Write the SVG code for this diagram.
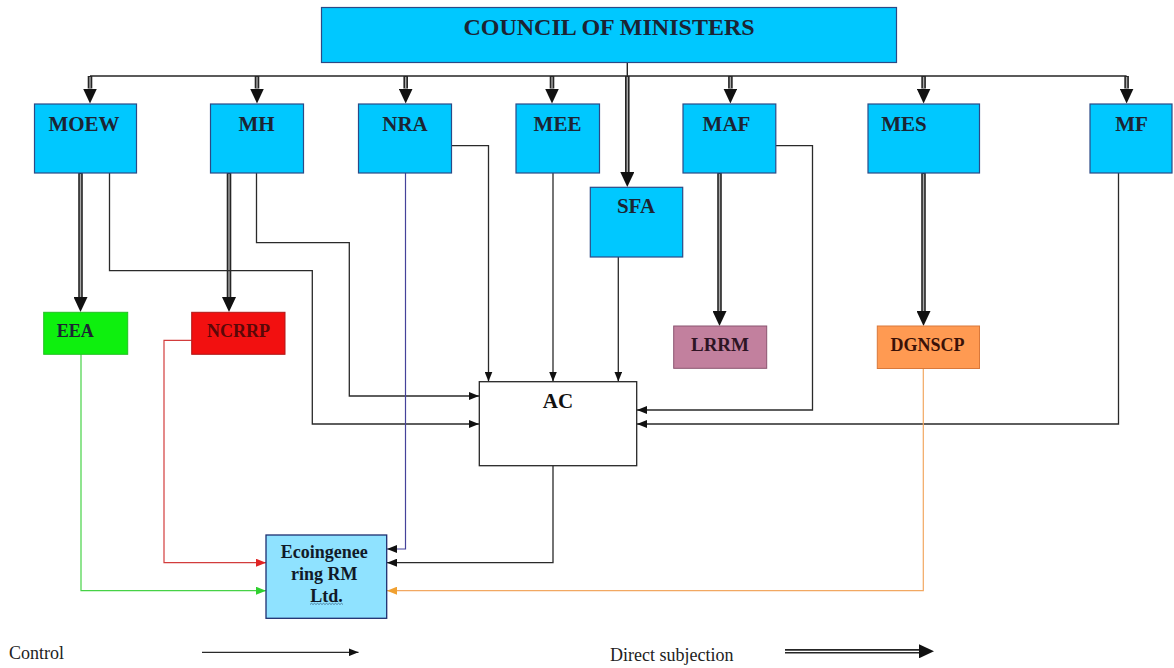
<svg xmlns="http://www.w3.org/2000/svg" width="1174" height="668" viewBox="0 0 1174 668">
  <style>
    .box { fill: #00c8ff; stroke: #2b4a86; stroke-width: 1.2; }
    .lbl { font-family: "Liberation Serif", "Times New Roman", serif; font-weight: bold; fill: #1c2433; text-anchor: middle; }
    .legend { font-family: "Liberation Serif", "Times New Roman", serif; font-size: 18px; fill: #222; }
    .ctl { fill: none; stroke: #2a2a2a; stroke-width: 1.3; marker-end: url(#arrCtl); }
    .ds-outer { fill: none; stroke: #262626; stroke-width: 4.6; marker-end: url(#arrDs); }
    .ds-inner { fill: none; stroke: #a8a8a8; stroke-width: 1.4; }
    .bus { fill: none; stroke: #262626; stroke-width: 1.4; }
  </style>
  <defs>
    <marker id="arrDs" markerUnits="userSpaceOnUse" viewBox="0 0 15 14" markerWidth="15" markerHeight="14" refX="0" refY="7" orient="auto">
      <path d="M0,0 L15,7 L0,14 z" fill="#111"/>
    </marker>
    <marker id="arrCtl" markerUnits="userSpaceOnUse" viewBox="0 0 10 8" markerWidth="10" markerHeight="8" refX="10" refY="4" orient="auto">
      <path d="M0,0 L10,4 L0,8 z" fill="#111"/>
    </marker>
    <marker id="arrRed" markerUnits="userSpaceOnUse" viewBox="0 0 10 8" markerWidth="10" markerHeight="8" refX="10" refY="4" orient="auto">
      <path d="M0,0 L10,4 L0,8 z" fill="#e02424"/>
    </marker>
    <marker id="arrGreen" markerUnits="userSpaceOnUse" viewBox="0 0 10 8" markerWidth="10" markerHeight="8" refX="10" refY="4" orient="auto">
      <path d="M0,0 L10,4 L0,8 z" fill="#2fd02f"/>
    </marker>
    <marker id="arrOrange" markerUnits="userSpaceOnUse" viewBox="0 0 10 8" markerWidth="10" markerHeight="8" refX="10" refY="4" orient="auto">
      <path d="M0,0 L10,4 L0,8 z" fill="#f0a030"/>
    </marker>
  </defs>

  <rect width="1174" height="668" fill="#ffffff"/>

  <!-- connectors -->
  <g id="connectors">
    <!-- council bus -->
    <path class="bus" d="M627.3,62 V76 M90,76 H1126.6"/>

    <!-- direct subjection: council to ministries -->
    <g id="ds-council">
      <path class="ds-outer" d="M90,76 V88.5"/><path class="ds-inner" d="M90,77 V88.5"/>
      <path class="ds-outer" d="M257,76 V88.5"/><path class="ds-inner" d="M257,77 V88.5"/>
      <path class="ds-outer" d="M405.7,76 V88.5"/><path class="ds-inner" d="M405.7,77 V88.5"/>
      <path class="ds-outer" d="M552,76 V88.5"/><path class="ds-inner" d="M552,77 V88.5"/>
      <path class="ds-outer" d="M730.4,76 V88.5"/><path class="ds-inner" d="M730.4,77 V88.5"/>
      <path class="ds-outer" d="M923.6,76 V88.5"/><path class="ds-inner" d="M923.6,77 V88.5"/>
      <path class="ds-outer" d="M1126.6,76 V88.5"/><path class="ds-inner" d="M1126.6,77 V88.5"/>
      <path class="ds-outer" d="M627.3,76 V172"/><path class="ds-inner" d="M627.3,77 V172"/>
    </g>

    <!-- direct subjection: ministries to agencies -->
    <g id="ds-agencies">
      <path class="ds-outer" d="M80.5,173 V297"/><path class="ds-inner" d="M80.5,174 V297"/>
      <path class="ds-outer" d="M229,173 V297"/><path class="ds-inner" d="M229,174 V297"/>
      <path class="ds-outer" d="M719.5,173 V311"/><path class="ds-inner" d="M719.5,174 V311"/>
      <path class="ds-outer" d="M923.5,173 V311"/><path class="ds-inner" d="M923.5,174 V311"/>
    </g>

    <!-- control links into AC -->
    <g id="ctl-ac">
      <path class="ctl" d="M109.5,173 V270.7 H312.3 V424 H479"/>
      <path class="ctl" d="M256.5,173 V242.7 H349.3 V396 H479"/>
      <path class="ctl" d="M451.6,145.7 H488.5 V381.5"/>
      <path class="ctl" d="M553,173 V381.5"/>
      <path class="ctl" d="M618.3,257 V381.5"/>
      <path class="ctl" d="M775.8,145.7 H812.5 V410 H637"/>
      <path class="ctl" d="M1118.5,173 V424 H637"/>
    </g>

    <!-- control links into Ecoingeneering RM Ltd. -->
    <g id="ctl-eco">
      <path d="M405.5,173 V549 H387" fill="none" stroke="#45439a" stroke-width="1.2" marker-end="url(#arrCtl)"/>
      <path class="ctl" d="M553,465.7 V562.7 H387"/>
      <path d="M81,354 V590.7 H266" fill="none" stroke="#46d246" stroke-width="1.2" marker-end="url(#arrGreen)"/>
      <path d="M191.7,340.3 H164 V562.7 H266" fill="none" stroke="#d23c3c" stroke-width="1.2" marker-end="url(#arrRed)"/>
      <path d="M923.3,368.5 V590.7 H387" fill="none" stroke="#f2a862" stroke-width="1.2" marker-end="url(#arrOrange)"/>
    </g>
  </g>

  <!-- nodes -->
  <g id="council">
    <rect class="box" x="321.5" y="7.5" width="575" height="55"/>
    <text class="lbl" x="609" y="34.5" font-size="24">COUNCIL OF MINISTERS</text>
  </g>

  <g id="moew">
    <rect class="box" x="34.5" y="104" width="102" height="69"/>
    <text class="lbl" x="84" y="130.7" font-size="21">MOEW</text>
  </g>
  <g id="mh">
    <rect class="box" x="210.5" y="104" width="93" height="69"/>
    <text class="lbl" x="256.5" y="130.7" font-size="21">MH</text>
  </g>
  <g id="nra">
    <rect class="box" x="358.5" y="104" width="93" height="69"/>
    <text class="lbl" x="405" y="130.7" font-size="21">NRA</text>
  </g>
  <g id="mee">
    <rect class="box" x="516" y="104" width="83.5" height="69"/>
    <text class="lbl" x="557.5" y="130.7" font-size="21">MEE</text>
  </g>
  <g id="maf">
    <rect class="box" x="683" y="104" width="92.8" height="69"/>
    <text class="lbl" x="726.5" y="130.7" font-size="21">MAF</text>
  </g>
  <g id="mes">
    <rect class="box" x="868" y="104" width="111.5" height="69"/>
    <text class="lbl" x="904" y="130.7" font-size="21">MES</text>
  </g>
  <g id="mf">
    <rect class="box" x="1090" y="104" width="82" height="69"/>
    <text class="lbl" x="1131.5" y="130.7" font-size="21">MF</text>
  </g>
  <g id="sfa">
    <rect class="box" x="590.3" y="187.3" width="92.4" height="69.7"/>
    <text class="lbl" x="636" y="213.3" font-size="21">SFA</text>
  </g>

  <g id="eea">
    <rect x="43.7" y="312.3" width="84" height="42" fill="#0ef00e" stroke="#22c022" stroke-width="1"/>
    <text class="lbl" x="75.3" y="336.7" font-size="18" fill="#1a3a1a">EEA</text>
  </g>
  <g id="ncrrp">
    <rect x="191.7" y="312.3" width="93.3" height="42" fill="#f21010" stroke="#b01818" stroke-width="1"/>
    <text class="lbl" x="238.5" y="336.7" font-size="18" style="fill:#5a0808">NCRRP</text>
  </g>
  <g id="lrrm">
    <rect x="673.7" y="326" width="93" height="42.3" fill="#c2809e" stroke="#8a5470" stroke-width="1"/>
    <text class="lbl" x="720" y="350.7" font-size="19" style="fill:#2e1424">LRRM</text>
  </g>
  <g id="dgnscp">
    <rect x="877.3" y="326" width="102.2" height="42.5" fill="#ff9a52" stroke="#d9783a" stroke-width="1"/>
    <text class="lbl" x="927.5" y="350.7" font-size="18" style="fill:#3a1208">DGNSCP</text>
  </g>

  <g id="ac">
    <rect x="479.3" y="381.7" width="157.4" height="84" fill="#ffffff" stroke="#262626" stroke-width="1.3"/>
    <text class="lbl" x="558" y="408.3" font-size="21" style="fill:#111">AC</text>
  </g>

  <g id="ecoingeneering">
    <rect x="266" y="535" width="120.7" height="83.3" fill="#8fe2ff" stroke="#1d2f70" stroke-width="1.3"/>
    <text class="lbl" font-size="18" style="fill:#111a28">
      <tspan x="326.5" y="558.3">Ecoingenee</tspan>
      <tspan x="326.5" y="580">ring RM</tspan>
      <tspan x="326.5" y="601.7">Ltd.</tspan>
    </text>
    <!-- proofing squiggle under the last line -->
    <path d="M310,604.5 l1.5,-1.2 l1.5,1.2 l1.5,-1.2 l1.5,1.2 l1.5,-1.2 l1.5,1.2 l1.5,-1.2 l1.5,1.2 l1.5,-1.2 l1.5,1.2 l1.5,-1.2 l1.5,1.2 l1.5,-1.2 l1.5,1.2 l1.5,-1.2 l1.5,1.2 l1.5,-1.2 l1.5,1.2 l1.5,-1.2 l1.5,1.2 l1.5,-1.2 l1.5,1.2" fill="none" stroke="#3c6a8a" stroke-width="0.8"/>
  </g>

  <!-- legend -->
  <g id="legend">
    <text class="legend" x="9" y="659">Control</text>
    <path class="ctl" d="M202,652.3 H358.5"/>
    <text class="legend" x="610" y="661">Direct subjection</text>
    <path class="ds-outer" d="M785,651.3 H919"/>
    <path d="M785,651.3 H919" fill="none" stroke="#ffffff" stroke-width="1.3"/>
  </g>
</svg>
